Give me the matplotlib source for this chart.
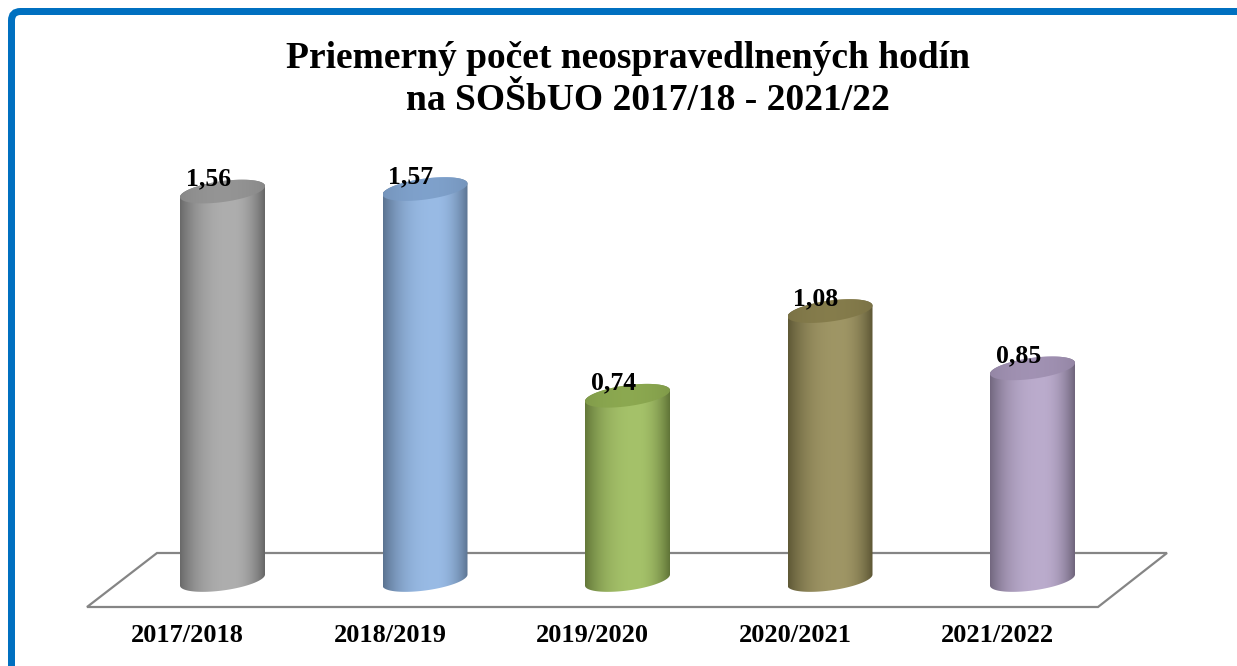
import numpy as np
import matplotlib
matplotlib.use('Agg')
import matplotlib.pyplot as plt
from matplotlib.patches import Polygon, FancyBboxPatch
from matplotlib.colors import to_rgb

categories = ['2017/2018', '2018/2019', '2019/2020', '2020/2021', '2021/2022']
values = [1.56, 1.57, 0.74, 1.08, 0.85]
value_labels = ['1,56', '1,57', '0,74', '1,08', '0,85']
bar_colors = ['#a5a5a5', '#8db3e2', '#9bbb59', '#948a54', '#b3a2c7']
title_line1 = 'Priemerný počet neospravedlnených hodín'
title_line2 = 'na SOŠbUO 2017/18 - 2021/22'

W, H = 1237, 666
fig = plt.figure(figsize=(W / 100, H / 100), dpi=100)
ax = fig.add_axes([0, 0, 1, 1])
PX, PY = 202.5, 249.0      # pixels per category step / per unit value
X0, Y0 = 222.5, 580.0      # pixel location of first category at value 0
ax.set_xlim((0 - X0) / PX, (W - X0) / PX)
ax.set_ylim((Y0 - H) / PY, Y0 / PY)
ax.axis('off')

def dx(p):
    return p / PX

def dy(p):
    return p / PY

def pt(xp, yp):
    return ((xp - X0) / PX, (Y0 - yp) / PY)

# floor
floor = Polygon([pt(157, 553), pt(1167, 553), pt(1098, 607), pt(87, 607)],
                closed=True, facecolor='white', edgecolor='#858585',
                linewidth=1.6, zorder=1)
ax.add_patch(floor)

FONT = 'Liberation Serif'
A, B, K = 42.5, 10.5, 5.5   # cylinder radius, ellipse half minor, tilt

def ellipse_pts(cx, cy, t):
    return cx + dx(A * np.cos(t)), cy + dy(B * np.sin(t) + K * np.cos(t))

def body_gradient(base, n=200):
    base = np.array(to_rgb(base))
    left = base * 0.64
    peak = np.clip(base + (1 - base) * 0.10, 0, 1)
    right = base * 0.62
    u = np.linspace(0, 1, n)
    cols = np.zeros((n, 3))
    for j, uu in enumerate(u):
        if uu < 0.62:
            t = 1 - (1 - uu / 0.62) ** 2.6
            cols[j] = left + (peak - left) * t
        else:
            t = ((uu - 0.62) / 0.38) ** 2.0
            cols[j] = peak + (right - peak) * t
    return cols[None, :, :]

def cap_gradient(base, n=200):
    base = np.array(to_rgb(base))
    u = np.linspace(0, 1, n)
    f = 0.82 + 0.08 * np.sin(u * np.pi) ** 0.7
    return (base[None, :] * f[:, None])[None, :, :]

for i, (v, c) in enumerate(zip(values, bar_colors)):
    cx = i
    t_front = np.linspace(np.pi, 2 * np.pi, 80)
    t_back = np.linspace(0, np.pi, 80)
    bx, by = ellipse_pts(cx, 0.0, t_front)
    tx, ty = ellipse_pts(cx, v, t_back)
    poly = np.vstack([np.column_stack([bx, by]), np.column_stack([tx, ty])])
    body = Polygon(poly, closed=True, transform=ax.transData,
                   facecolor='none', edgecolor='none')
    ext = [cx - dx(A), cx + dx(A), -dy(16), v + dy(16)]
    im = ax.imshow(body_gradient(c), extent=ext, aspect='auto',
                   interpolation='bilinear', zorder=2, origin='lower')
    im.set_clip_path(body)
    t_all = np.linspace(0, 2 * np.pi, 160)
    ex, ey = ellipse_pts(cx, v, t_all)
    cap = Polygon(np.column_stack([ex, ey]), closed=True,
                  transform=ax.transData, facecolor='none', edgecolor='none')
    im2 = ax.imshow(cap_gradient(c), extent=ext, aspect='auto',
                    interpolation='bilinear', zorder=3, origin='lower')
    im2.set_clip_path(cap)
    ax.text(cx - dx(14), v + dy(6), value_labels[i], ha='center',
            va='baseline', fontsize=18.5, fontweight='bold', family=FONT,
            color='black', zorder=5)
    ax.text(cx - dx(35), dy(-56), categories[i], ha='center', va='center',
            fontsize=19, fontweight='bold', family=FONT, color='black',
            zorder=5)

ax.set_xticks(range(len(categories)))

fig.text(628 / W, 1 - 58 / H, title_line1, ha='center', va='center',
         fontsize=27, fontweight='bold', family=FONT)
fig.text(648 / W, 1 - 101 / H, title_line2, ha='center', va='center',
         fontsize=27, fontweight='bold', family=FONT)

frame = FancyBboxPatch((11.5, -30), 1250, H - 11.5 + 30,
                       boxstyle='round,pad=0,rounding_size=9',
                       transform=None, facecolor='none',
                       edgecolor='#0070c0', linewidth=7 * 0.72)
fig.add_artist(frame)

fig.savefig('out.png', dpi=100)
